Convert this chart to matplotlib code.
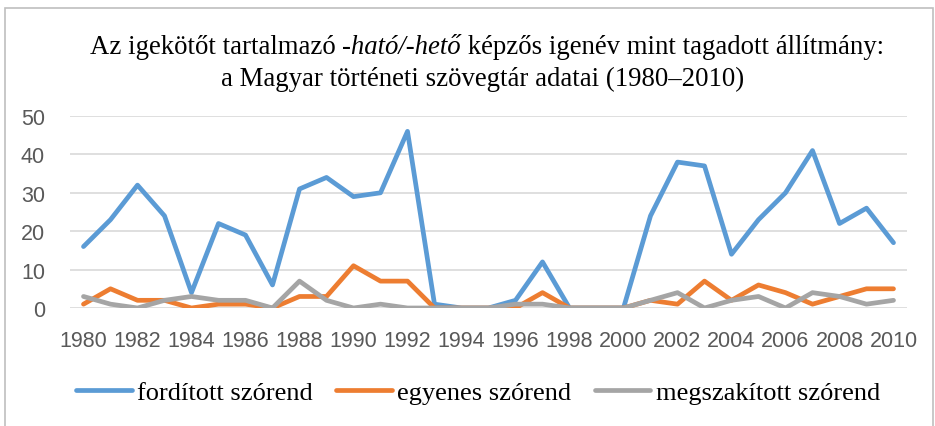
import matplotlib
matplotlib.use("Agg")
import matplotlib.pyplot as plt
from matplotlib.patches import Rectangle

# adatok
years = list(range(1980, 2011))
forditott = [16, 23, 32, 24, 4, 22, 19, 6, 31, 34, 29, 30, 46, 1, 0, 0, 2, 12, 0, 0, 0,
             24, 38, 37, 14, 23, 30, 41, 22, 26, 17]
egyenes = [1, 5, 2, 2, 0, 1, 1, 0, 3, 3, 11, 7, 7, 0, 0, 0, 0, 4, 0, 0, 0,
           2, 1, 7, 2, 6, 4, 1, 3, 5, 5]
megszakitott = [3, 1, 0, 2, 3, 2, 2, 0, 7, 2, 0, 1, 0, 0, 0, 0, 1, 1, 0, 0, 0,
                2, 4, 0, 2, 3, 0, 4, 3, 1, 2]
series_names = ["fordított szórend", "egyenes szórend", "megszakított szórend"]
colors = ["#5B9BD5", "#ED7D31", "#A5A5A5"]

serif = "Liberation Serif"
sans = "Liberation Sans"

fig = plt.figure(figsize=(9.35, 4.27), dpi=100)
ax = fig.add_axes([70 / 935, 1 - 309 / 427, 837 / 935, 192 / 427])

# keret
fig.patches.append(Rectangle((5 / 935, -0.05), 928 / 935, 1 - 9 / 427 + 0.05,
                             transform=fig.transFigure, fill=False,
                             edgecolor="#BFBFBF", linewidth=1.2))

for vals, name, c in zip([forditott, egyenes, megszakitott], series_names, colors):
    ax.plot(years, vals, color=c, linewidth=3.4, label=name,
            solid_joinstyle="round", solid_capstyle="round")

ax.set_xlim(1979.5, 2010.5)
ax.set_ylim(0, 50)
ax.set_xticks(years[::2])
ax.set_yticks(range(0, 51, 10))
ax.grid(axis="y", color="#D9D9D9", linewidth=1.2)
ax.set_axisbelow(True)
for s in ax.spines.values():
    s.set_visible(False)
ax.tick_params(length=0, labelsize=15.5, labelcolor="#595959")
ax.tick_params(axis="x", pad=16)
ax.tick_params(axis="y", pad=18)
for lab in ax.get_xticklabels() + ax.get_yticklabels():
    lab.set_fontfamily(sans)

# cím, dőlt résszel
title_size = 19.3
pieces = [("Az igekötőt tartalmazó ", "normal"),
          ("-ható/-hető", "italic"),
          (" képzős igenév mint tagadott állítmány:", "normal")]
renderer = fig.canvas.get_renderer()
texts = []
for s, st in pieces:
    t = fig.text(0, 1 - 47 / 427, s, fontsize=title_size, fontfamily=serif,
                 fontstyle=st, va="center", ha="left")
    texts.append(t)
widths = [t.get_window_extent(renderer).width for t in texts]
x = 487 - sum(widths) / 2
for t, w in zip(texts, widths):
    t.set_x(x / 935)
    x += w
fig.text(483 / 935, 1 - 79 / 427, "a Magyar történeti szövegtár adatai (1980–2010)",
         fontsize=title_size, fontfamily=serif, ha="center", va="center")

leg = fig.legend(loc="center", bbox_to_anchor=(478 / 935, 1 - 393 / 427), ncol=3,
                 frameon=False, prop={"family": serif, "size": 19},
                 handlelength=2.1, handletextpad=0.2, columnspacing=0.9)

fig.savefig("out.png", dpi=100)
